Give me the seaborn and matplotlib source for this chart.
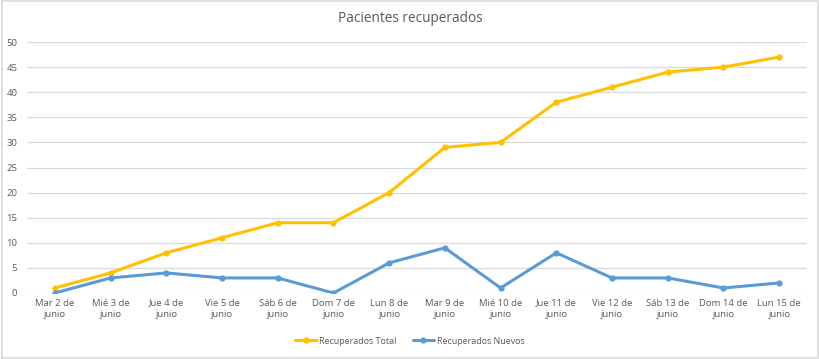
import matplotlib
matplotlib.use("Agg")
import matplotlib.pyplot as plt
import seaborn as sns
import pandas as pd
from matplotlib.patches import Rectangle

categories = ["Mar 2 de\njunio", "Mié 3 de\njunio", "Jue 4 de\njunio", "Vie 5 de\njunio",
              "Sáb 6 de\njunio", "Dom 7 de\njunio", "Lun 8 de\njunio", "Mar 9 de\njunio",
              "Mié 10 de\njunio", "Jue 11 de\njunio", "Vie 12 de\njunio", "Sáb 13 de\njunio",
              "Dom 14 de\njunio", "Lun 15 de\njunio"]
recuperados_total = [1, 4, 8, 11, 14, 14, 20, 29, 30, 38, 41, 44, 45, 47]
recuperados_nuevos = [0, 3, 4, 3, 3, 0, 6, 9, 1, 8, 3, 3, 1, 2]
series_names = ["Recuperados Total", "Recuperados Nuevos"]
y_ticks = [0, 5, 10, 15, 20, 25, 30, 35, 40, 45, 50]

sns.set_theme(style="white")
plt.rcParams['font.family'] = ['Open Sans', 'DejaVu Sans']

df = pd.DataFrame({
    "x": list(range(len(categories))) * 2,
    "y": recuperados_total + recuperados_nuevos,
    "serie": [series_names[0]] * len(categories) + [series_names[1]] * len(categories),
})

fig = plt.figure(figsize=(8.2, 3.59), dpi=100)
ax = fig.add_axes([27/820, 1 - 293/359, (807 - 27)/820, (293 - 42)/359])

sns.lineplot(data=df, x="x", y="y", hue="serie", palette=["#FFC000", "#5B9BD5"],
             marker="o", markersize=4.5, markeredgewidth=0, linewidth=2.2, ax=ax,
             legend=True)

ax.set_xlim(-0.5, len(categories) - 0.5)
ax.set_ylim(0, 50)
ax.set_yticks(y_ticks)
ax.set_xticks(range(len(categories)))
ax.set_xticklabels(categories, fontsize=6.8, color="#595959", linespacing=1.4)
ax.set_yticklabels([str(v) for v in y_ticks], fontsize=6.8, color="#595959")
ax.tick_params(axis="both", length=0, pad=4)
ax.tick_params(axis="y", pad=7)
for s in ax.spines.values():
    s.set_visible(False)
ax.grid(axis="y", color="#D9D9D9", linewidth=0.9)
ax.set_axisbelow(True)
ax.set_xlabel("")
ax.set_ylabel("")

fig.text(0.5, 1 - 19/359, "Pacientes recuperados", ha="center", va="center",
         fontsize=9.8, color="#595959")

leg = ax.legend(loc="center", bbox_to_anchor=(0.5, 1 - 341/359), bbox_transform=fig.transFigure,
                ncol=2, frameon=False, fontsize=6.4, handlelength=2.4, columnspacing=1.8,
                handletextpad=0.3)
for t in leg.get_texts():
    t.set_color("#595959")

fig.patches.append(Rectangle((0.002, 0.003), 0.996, 0.994, transform=fig.transFigure,
                             fill=False, edgecolor="#D9D9D9", linewidth=1.2))

fig.savefig("out.png", dpi=100)
